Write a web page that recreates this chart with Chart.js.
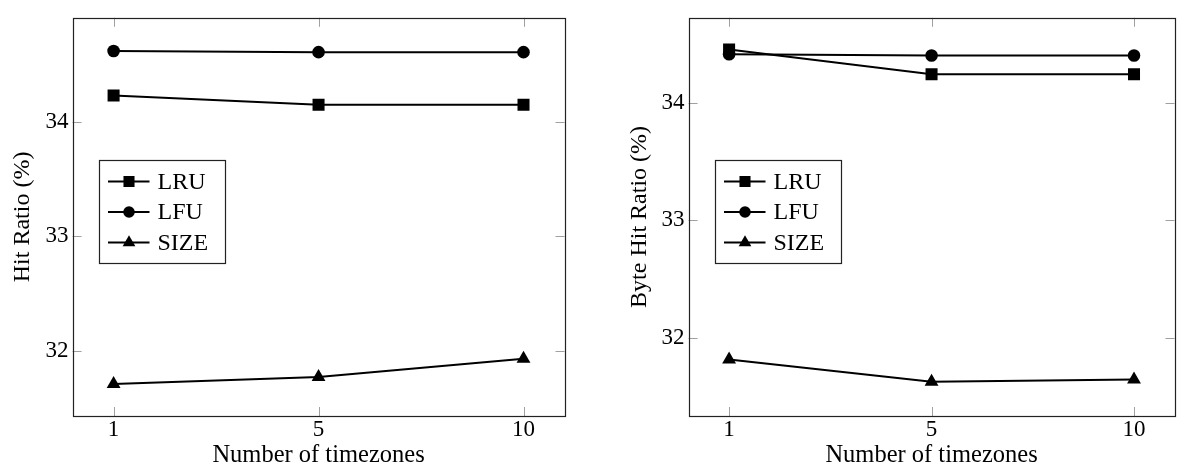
<!DOCTYPE html>
<html>
<head>
<meta charset="utf-8">
<title>Hit ratio vs timezones</title>
<script src="https://cdn.jsdelivr.net/npm/chart.js@4.4.1/dist/chart.umd.min.js"></script>
<style>
    html, body { margin: 0; padding: 0; background: #fff; }
    #wrap { position: relative; width: 1183px; height: 470px; }
    .box { position: absolute; top: 0; height: 470px; }
</style>
</head>
<body>
<div id="wrap">
    <div class="box" style="left:0; width:590px;"><canvas id="hitChart" width="590" height="470"></canvas></div>
    <div class="box" style="left:590px; width:593px;"><canvas id="byteChart" width="593" height="470"></canvas></div>
</div>

<script>
// data
const xLabels = ["1", "5", "10"];
const yTicks = [32, 33, 34];
const seriesNames = ["LRU", "LFU", "SIZE"];
const seriesMarks = ["rect", "circle", "triangle"];

const hitLRU = [34.23, 34.15, 34.15];
const hitLFU = [34.62, 34.61, 34.61];
const hitSIZE = [31.71, 31.77, 31.93];

const byteLRU = [34.45, 34.24, 34.24];
const byteLFU = [34.41, 34.40, 34.40];
const byteSIZE = [31.82, 31.63, 31.65];

const FONT = "'Liberation Serif', 'Times New Roman', serif";
Chart.defaults.font.family = FONT;
Chart.defaults.font.size = 23;
Chart.defaults.color = "#000";

function markRadius(style) {
    if (style === "rect") return 8.5;
    if (style === "triangle") return 8;
    return 6.3;
}

function toPoints(values) {
    return values.map((v, i) => ({ x: i, y: v }));
}

// frame, inward ticks and legend box drawn like pgfplots
const pgfPlugin = {
    id: "pgfLook",
    afterDraw(chart) {
        const ctx = chart.ctx;
        const a = chart.chartArea;
        const xs = chart.scales.x;
        const ys = chart.scales.y;
        ctx.save();

        // inward tick marks
        ctx.strokeStyle = "#a0a0a0";
        ctx.lineWidth = 1;
        ctx.beginPath();
        yTicks.forEach(v => {
            const y = Math.round(ys.getPixelForValue(v)) + 0.5;
            ctx.moveTo(a.left, y); ctx.lineTo(a.left + 9, y);
            ctx.moveTo(a.right, y); ctx.lineTo(a.right - 9, y);
        });
        xLabels.forEach((l, i) => {
            const x = Math.round(xs.getPixelForValue(i)) + 0.5;
            ctx.moveTo(x, a.bottom); ctx.lineTo(x, a.bottom - 9);
            ctx.moveTo(x, a.top); ctx.lineTo(x, a.top + 9);
        });
        ctx.stroke();

        // frame
        ctx.strokeStyle = "#222";
        ctx.lineWidth = 1.2;
        ctx.strokeRect(Math.round(a.left) + 0.5, Math.round(a.top) + 0.5,
            Math.round(a.right - a.left), Math.round(a.bottom - a.top));

        // legend
        const bx = Math.round(a.left + 26) + 0.5;
        const by = 160.5;
        ctx.fillStyle = "#fff";
        ctx.fillRect(bx, by, 126, 103);
        ctx.strokeStyle = "#222";
        ctx.lineWidth = 1.2;
        ctx.strokeRect(bx, by, 126, 103);

        chart.data.datasets.forEach((ds, i) => {
            const y = 181.5 + i * 30.5;
            ctx.strokeStyle = "#000";
            ctx.lineWidth = 2;
            ctx.beginPath();
            ctx.moveTo(bx + 8.5, y);
            ctx.lineTo(bx + 50, y);
            ctx.stroke();
            ctx.fillStyle = "#000";
            Chart.helpers.drawPoint(ctx, {
                pointStyle: ds.pointStyle,
                radius: ds.pointRadius * 0.92,
                borderWidth: 0
            }, bx + 29.5, y);
            ctx.fillStyle = "#000";
            ctx.font = "24px " + FONT;
            ctx.textBaseline = "middle";
            ctx.textAlign = "left";
            ctx.fillText(ds.label, bx + 58, y + 1);
        });

        ctx.restore();
    }
};

function makeChart(canvasId, yTitle, lists, opts) {
    const datasets = lists.map((vals, i) => ({
        label: seriesNames[i],
        data: toPoints(vals),
        borderColor: "#000",
        backgroundColor: "#000",
        borderWidth: 2,
        pointStyle: seriesMarks[i],
        pointRadius: markRadius(seriesMarks[i]),
        pointBorderWidth: 0,
        pointBackgroundColor: "#000",
        tension: 0
    }));

    new Chart(document.getElementById(canvasId), {
        type: "line",
        data: { datasets: datasets },
        options: {
            responsive: false,
            animation: false,
            events: [],
            layout: {
                padding: { top: opts.top, right: opts.right, bottom: 0, left: 0 }
            },
            plugins: {
                legend: { display: false },
                tooltip: { enabled: false }
            },
            scales: {
                x: {
                    type: "linear",
                    min: -0.2,
                    max: 2.2,
                    grid: { display: false, drawTicks: false },
                    border: { display: false },
                    afterBuildTicks: s => { s.ticks = xLabels.map((l, i) => ({ value: i })); },
                    afterFit: s => { s.height = 54; },
                    ticks: {
                        padding: 0,
                        maxRotation: 0,
                        callback: v => xLabels[v]
                    },
                    title: {
                        display: true,
                        text: "Number of timezones",
                        font: { size: 24.5 },
                        padding: { top: 0, bottom: 0 }
                    }
                },
                y: {
                    min: opts.yMin,
                    max: opts.yMax,
                    grid: { display: false, drawTicks: false },
                    border: { display: false },
                    afterBuildTicks: s => { s.ticks = yTicks.map(v => ({ value: v })); },
                    afterFit: s => { s.width = opts.axisWidth; },
                    ticks: { padding: 4 },
                    title: {
                        display: true,
                        text: yTitle,
                        font: { size: 24 },
                        padding: { top: opts.titlePad, bottom: 0 }
                    }
                }
            }
        },
        plugins: [pgfPlugin]
    });
}

makeChart("hitChart", "Hit Ratio (%)", [hitLRU, hitLFU, hitSIZE],
    { yMin: 31.43, yMax: 34.91, top: 7, right: 25.5, axisWidth: 72.6, titlePad: 8 });

makeChart("byteChart", "Byte Hit Ratio (%)", [byteLRU, byteLFU, byteSIZE],
    { yMin: 31.34, yMax: 34.72, top: 7.3, right: 2.3, axisWidth: 98.6, titlePad: 35 });
</script>
</body>
</html>
